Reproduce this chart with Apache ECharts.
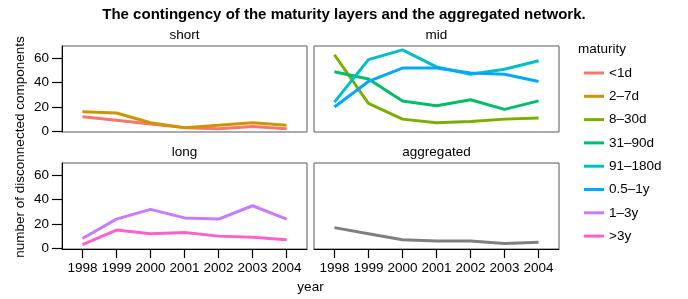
<!DOCTYPE html>
<html>
<head>
<meta charset="utf-8">
<script src="https://cdn.jsdelivr.net/npm/echarts@6/dist/echarts.min.js"></script>
<style>
html,body{margin:0;padding:0;background:#fff;}
#chart{width:688px;height:299px;}
</style>
</head>
<body>
<div id="chart"></div>
<script>
// ---- data ----
const years = [1998, 1999, 2000, 2001, 2002, 2003, 2004];
const yTicks = [0, 20, 40, 60];
const panels = ["short", "mid", "long", "aggregated"];
const maturities = ["<1d", "2\u20137d", "8\u201330d", "31\u201390d", "91\u2013180d", "0.5\u20131y", "1\u20133y", ">3y"];

const s_lt1d   = [12, 9, 6, 3, 2, 4, 2];
const s_2_7d   = [16, 15, 7, 3, 5, 7, 5];
const m_8_30d  = [63, 23, 10, 7, 8, 10, 11];
const m_31_90d = [49, 43, 25, 21, 26, 18, 25];
const m_91_180d= [24, 59, 67, 53, 47, 51, 58];
const m_05_1y  = [20, 41, 52, 52, 48, 47, 41];
const l_1_3y   = [8, 24, 32, 25, 24, 35, 24];
const l_gt3y   = [3, 15, 12, 13, 10, 9, 7];
const aggregated = [17, 12, 7, 6, 6, 4, 5];

const colors = ["#F8766D", "#CD9600", "#7CAE00", "#00BE67", "#00BFC4", "#00A9FF", "#C77CFF", "#FF61CC"];
const aggColor = "#7f7f7f";

// series definitions: [name, values, panelIndex, color]
const seriesDefs = [
  [maturities[0], s_lt1d, 0, colors[0]],
  [maturities[1], s_2_7d, 0, colors[1]],
  [maturities[2], m_8_30d, 1, colors[2]],
  [maturities[3], m_31_90d, 1, colors[3]],
  [maturities[4], m_91_180d, 1, colors[4]],
  [maturities[5], m_05_1y, 1, colors[5]],
  [maturities[6], l_1_3y, 2, colors[6]],
  [maturities[7], l_gt3y, 2, colors[7]],
  ["aggregated", aggregated, 3, aggColor]
];

const FONT = "'Liberation Sans', Arial, Helvetica, sans-serif";
const chart = echarts.init(document.getElementById('chart'), null, {renderer: 'canvas'});

const gridPos = [
  {left: 62, top: 46, width: 245, height: 86},
  {left: 314, top: 46, width: 245, height: 86},
  {left: 62, top: 163, width: 245, height: 86},
  {left: 314, top: 163, width: 245, height: 86}
];

const grids = gridPos.map(g => Object.assign({show: true, borderColor: '#595959', borderWidth: 1, backgroundColor: 'transparent'}, g));

const xAxes = gridPos.map((g, i) => ({
  type: 'value', gridIndex: i, min: 1997.4, max: 2004.6,
  splitLine: {show: false},
  axisLine: {show: i >= 2, onZero: false, lineStyle: {color: '#000', width: 1}},
  axisTick: {show: i >= 2, length: 9, customValues: years, lineStyle: {color: '#000', width: 1.2}},
  axisLabel: {show: i >= 2, customValues: years, margin: 12, color: '#000', fontSize: 13.5, fontFamily: FONT, formatter: v => String(v)}
}));

const yAxes = gridPos.map((g, i) => ({
  type: 'value', gridIndex: i, min: -0.6, max: 70.2,
  splitLine: {show: false},
  axisLine: {show: i % 2 === 0, onZero: false, lineStyle: {color: '#000', width: 1}},
  axisTick: {show: i % 2 === 0, length: 10, customValues: yTicks, lineStyle: {color: '#000', width: 1.2}},
  axisLabel: {show: i % 2 === 0, customValues: yTicks, margin: 13, color: '#000', fontSize: 13.5, fontFamily: FONT}
}));

const series = seriesDefs.map(([name, vals, p, col]) => ({
  name: name, type: 'line', xAxisIndex: p, yAxisIndex: p,
  data: years.map((y, k) => [y, vals[k]]),
  showSymbol: false, symbol: 'none', animation: false,
  lineStyle: {color: col, width: 3, cap: 'butt', join: 'round'},
  itemStyle: {color: col}
}));

const graphics = [];
panels.forEach((p, i) => {
  const g = gridPos[i];
  graphics.push({type: 'text', x: g.left + g.width / 2, y: g.top - 11, style: {text: p, fontSize: 13.5, fontFamily: FONT, fill: '#000', textAlign: 'center', textVerticalAlign: 'middle'}});
});
graphics.push({type: 'text', x: 310.5, y: 287, style: {text: 'year', fontSize: 13.5, fontFamily: FONT, fill: '#000', textAlign: 'center', textVerticalAlign: 'middle'}});
graphics.push({type: 'text', x: 20, y: 147, rotation: Math.PI / 2, style: {text: 'number of disconnected components', fontSize: 13.5, fontFamily: FONT, fill: '#000', textAlign: 'center', textVerticalAlign: 'middle'}});
graphics.push({type: 'text', x: 578, y: 49, style: {text: 'maturity', fontSize: 13.5, fontFamily: FONT, fill: '#000', textAlign: 'left', textVerticalAlign: 'middle'}});

chart.setOption({
  animation: false,
  backgroundColor: '#fff',
  title: {text: 'The contingency of the maturity layers and the aggregated network.', left: 'center', top: 2,
    textStyle: {fontSize: 15, fontWeight: 'bold', fontFamily: FONT, color: '#000'}},
  legend: {
    data: maturities, orient: 'vertical', left: 579, top: 60,
    icon: 'rect', itemWidth: 20, itemHeight: 3, itemGap: 7.3,
    textStyle: {fontSize: 13.5, fontFamily: FONT, color: '#000', lineHeight: 16, padding: [0, 0, 0, 0]},
    selectedMode: false
  },
  grid: grids, xAxis: xAxes, yAxis: yAxes, series: series,
  graphic: graphics
});
</script>
</body>
</html>
